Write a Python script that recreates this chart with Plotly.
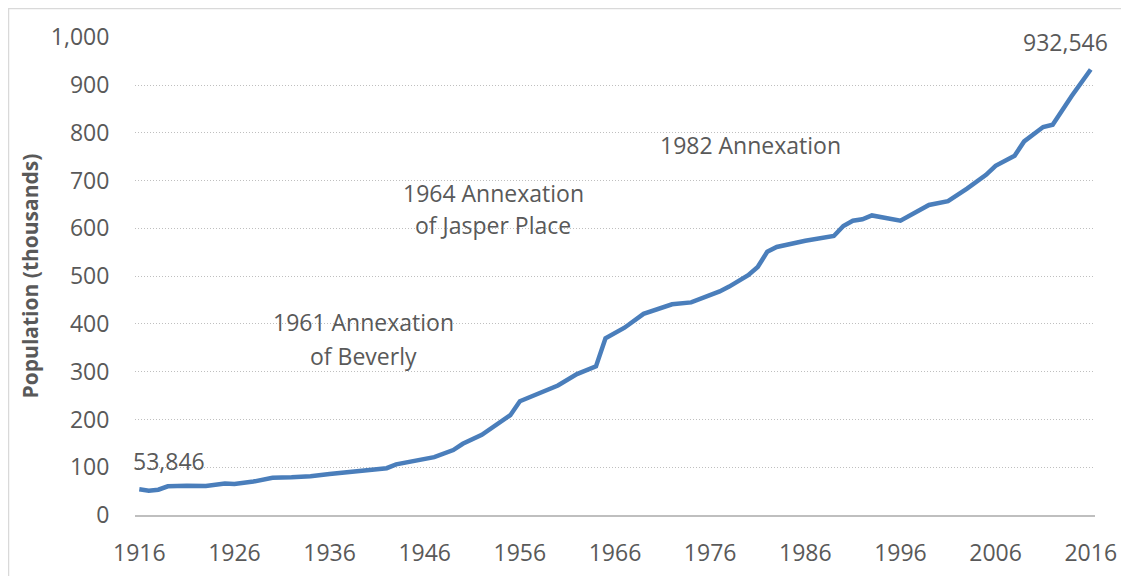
import plotly.graph_objects as go

# Edmonton population, thousands
years = [1916, 1917, 1918, 1919, 1921, 1923, 1925, 1926, 1928, 1929, 1930, 1932, 1934,
         1936, 1938, 1940, 1942, 1943, 1946, 1947, 1949, 1950, 1952, 1954, 1955, 1956,
         1958, 1960, 1962, 1964, 1965, 1967, 1969, 1971, 1972, 1974, 1975, 1977, 1978,
         1980, 1981, 1982, 1983, 1986, 1989, 1990, 1991, 1992, 1993, 1996, 1999, 2001,
         2003, 2005, 2006, 2008, 2009, 2011, 2012, 2014, 2016]
population = [53.846, 51, 53, 60, 61, 60.5, 66, 65, 70, 75, 78, 79, 81,
              86, 90, 94, 98, 106, 117, 121, 136, 149, 168, 196, 209, 238,
              254, 271, 295, 311, 370, 392, 421, 436, 441, 445, 452, 468, 478,
              502, 519, 551, 561, 574, 584, 605, 616, 619, 627, 616, 649, 657,
              683, 712, 731, 752, 782, 812, 817, 877, 932.546]

x_ticks = [1916, 1926, 1936, 1946, 1956, 1966, 1976, 1986, 1996, 2006, 2016]
y_ticks = [0, 100, 200, 300, 400, 500, 600, 700, 800, 900, 1000]

notes = [
    (1919.1, 113, '53,846'),
    (2013.3, 989, '932,546'),
    (1939.6, 403, '1961 Annexation'),
    (1939.6, 332, 'of Beverly'),
    (1953.2, 674, '1964 Annexation'),
    (1953.2, 607, 'of Jasper Place'),
    (1980.2, 774, '1982 Annexation'),
]

grey = '#595959'
font = 'Open Sans'
fsize = 23

fig = go.Figure()
fig.add_trace(go.Scatter(x=years, y=population, mode='lines',
                         line=dict(color='#4A7EBB', width=4.5), hoverinfo='x+y'))

for x, y, t in notes:
    fig.add_annotation(x=x, y=y, text=t, showarrow=False,
                       font=dict(family=font, size=fsize, color=grey))

# light frame around the chart area (page body adds 8px offset)
fig.add_shape(type='rect', xref='paper', yref='paper',
              x0=(0.5 - 127) / 960, x1=1.1, y0=-0.2, y1=(507 - 0.5) / 478,
              line=dict(color='#D9D9D9', width=1.5))

fig.update_layout(
    width=1129, height=576,
    margin=dict(l=127, r=42, t=29, b=69),
    plot_bgcolor='white', paper_bgcolor='white',
    showlegend=False,
    font=dict(family=font, size=fsize, color=grey),
    xaxis=dict(range=[1915.55, 2016.45], tickvals=x_ticks, showgrid=False,
               showline=True, linecolor='#BFBFBF', linewidth=1.5,
               ticks='outside', ticklen=17, tickcolor='rgba(0,0,0,0)',
               zeroline=False, automargin=False),
    yaxis=dict(range=[0, 1000.5], tickvals=y_ticks, tickformat=',',
               showgrid=True, gridcolor='#BFBFBF', griddash='1px,2px', gridwidth=1,
               ticks='outside', ticklen=20, tickcolor='rgba(0,0,0,0)',
               zeroline=False, automargin=False,
               title=dict(text='<b>Population (thousands)</b>', standoff=6,
                          font=dict(family=font, size=21, color=grey))),
)

fig.write_html('out.html')
